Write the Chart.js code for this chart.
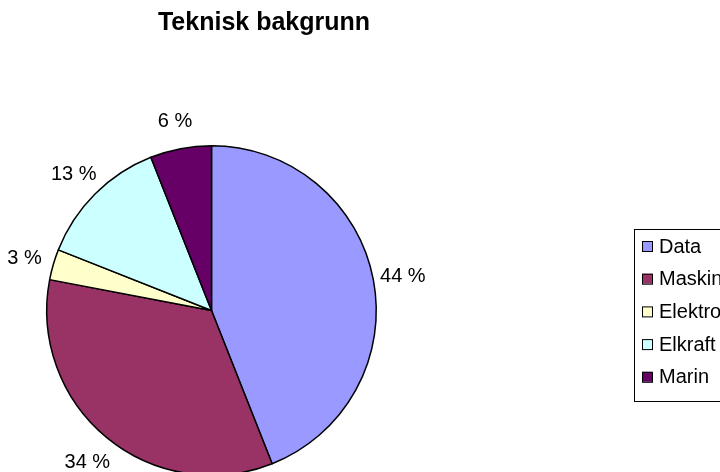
<!DOCTYPE html>
<html>
<head>
<meta charset="utf-8">
<script src="https://cdn.jsdelivr.net/npm/chart.js@4"></script>
<style>
  html, body { margin: 0; padding: 0; background: #fff; overflow: hidden; }
  #wrap { position: absolute; left: 0; top: 0; width: 720px; height: 490px; }
</style>
</head>
<body>
<div id="wrap"><canvas id="pieChart" width="720" height="490"></canvas></div>
<script>
// data
const chartTitle = 'Teknisk bakgrunn';
const categories = ['Data', 'Maskin', 'Elektro', 'Elkraft', 'Marin'];
const shares = [44, 34, 3, 13, 6];
const sliceColors = ['#9999FF', '#993366', '#FFFFCC', '#CCFFFF', '#660066'];

const FONT = '"Liberation Sans", Arial, sans-serif';

// title drawn over the page
const titlePlugin = {
    id: 'excelTitle',
    afterDraw(chart) {
        const ctx = chart.ctx;
        ctx.save();
        ctx.fillStyle = '#000';
        ctx.font = 'bold 25px ' + FONT;
        ctx.textAlign = 'center';
        ctx.textBaseline = 'middle';
        ctx.fillText(chartTitle, 264, 23);
        ctx.restore();
    }
};

// percent labels outside each slice
const labelPlugin = {
    id: 'sliceLabels',
    afterDatasetsDraw(chart) {
        const ctx = chart.ctx;
        const arcs = chart.getDatasetMeta(0).data;
        const values = chart.data.datasets[0].data;
        ctx.save();
        ctx.fillStyle = '#000';
        ctx.font = '20px ' + FONT;
        ctx.textAlign = 'center';
        ctx.textBaseline = 'middle';
        arcs.forEach((arc, i) => {
            const mid = (arc.startAngle + arc.endAngle) / 2;
            const r = arc.outerRadius + 30;
            ctx.fillText(values[i] + ' %', arc.x + Math.cos(mid) * r, arc.y + Math.sin(mid) * r + 2);
        });
        ctx.restore();
    }
};

// boxed legend on the right (runs off the edge like the original)
const legendPlugin = {
    id: 'boxLegend',
    afterDraw(chart) {
        const ctx = chart.ctx;
        const ds = chart.data.datasets[0];
        ctx.save();
        ctx.strokeStyle = '#000';
        ctx.lineWidth = 1;
        ctx.strokeRect(634.5, 229.5, 200, 172);
        ctx.font = '20px ' + FONT;
        ctx.textBaseline = 'middle';
        chart.data.labels.forEach((lab, i) => {
            const y = 246 + i * 32.7;
            ctx.fillStyle = ds.backgroundColor[i];
            ctx.fillRect(642, y - 5, 10, 10);
            ctx.strokeRect(642.5, y - 4.5, 10, 10);
            ctx.fillStyle = '#000';
            ctx.fillText(lab, 659, y + 1);
        });
        ctx.restore();
    }
};

new Chart(document.getElementById('pieChart').getContext('2d'), {
    type: 'pie',
    data: {
        labels: categories,
        datasets: [{
            data: shares,
            backgroundColor: sliceColors,
            borderColor: '#000',
            borderWidth: 1.5
        }]
    },
    options: {
        responsive: false,
        animation: false,
        events: [],
        layout: { padding: { left: 46, top: 145, right: 343, bottom: 14 } },
        plugins: {
            legend: { display: false },
            title: { display: false },
            tooltip: { enabled: false }
        }
    },
    plugins: [titlePlugin, labelPlugin, legendPlugin]
});
</script>
</body>
</html>
